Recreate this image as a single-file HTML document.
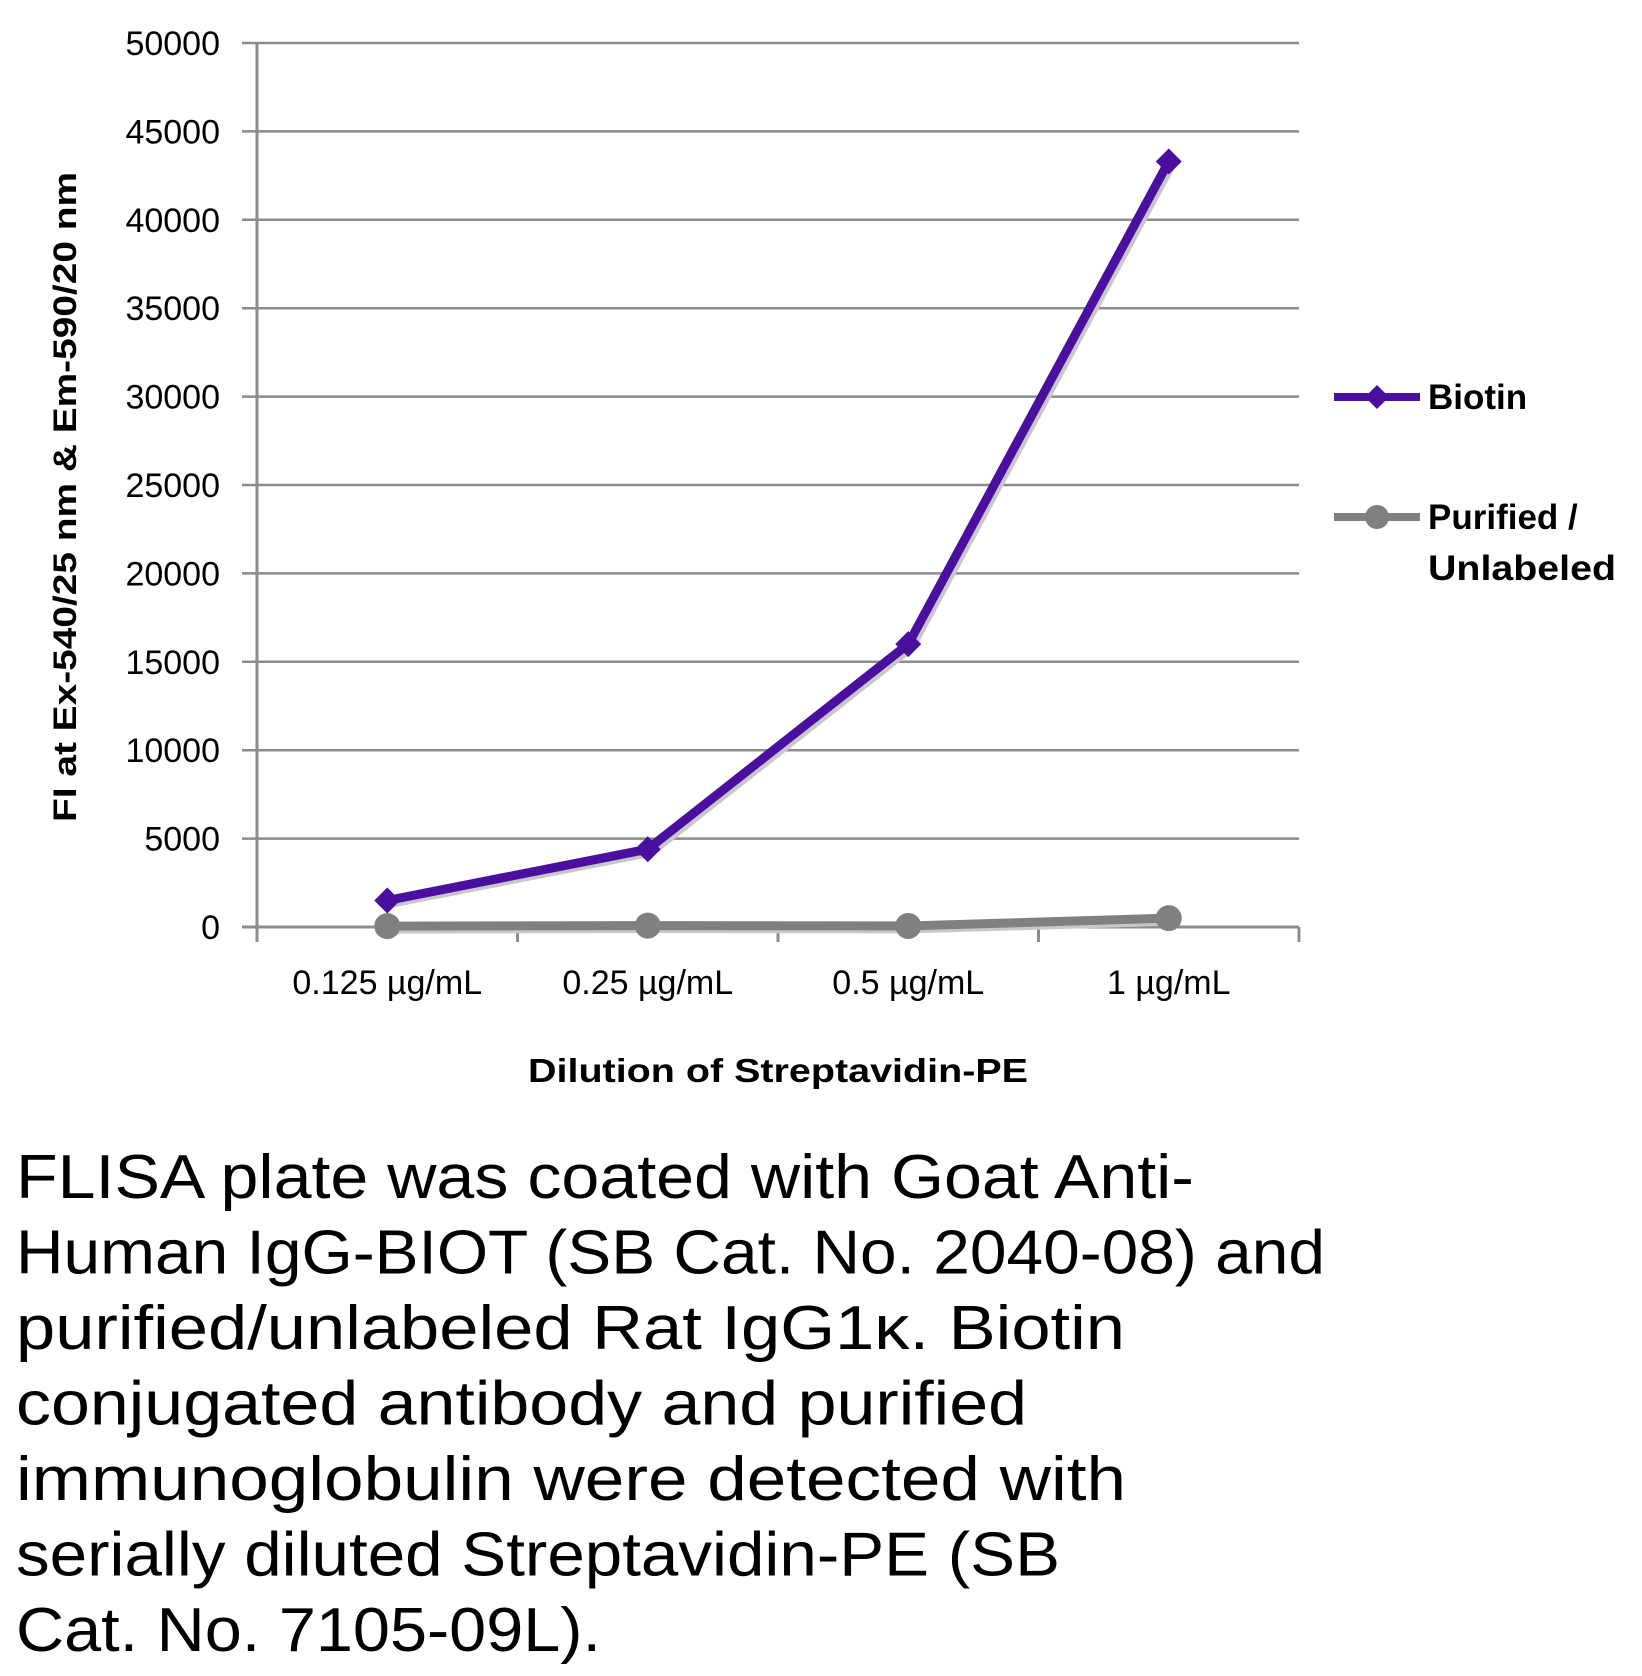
<!DOCTYPE html>
<html><head><meta charset="utf-8"><style>
html,body{margin:0;padding:0;background:#fff}
svg{display:block;font-family:"Liberation Sans",sans-serif}
</style></head><body>
<svg id="chart" width="1642" height="1676" viewBox="0 0 1642 1676"></svg>
<script>
const categories=["0.125 µg/mL","0.25 µg/mL","0.5 µg/mL","1 µg/mL"];
const biotin=[1500,4400,16000,43300];
const purified=[50,80,60,500];
const yTicks=[0,5000,10000,15000,20000,25000,30000,35000,40000,45000,50000];
const captionLines=["FLISA plate was coated with Goat Anti-","Human IgG-BIOT (SB Cat. No. 2040-08) and","purified/unlabeled Rat IgG1κ.  Biotin","conjugated antibody and purified","immunoglobulin were detected with","serially diluted Streptavidin-PE (SB","Cat. No. 7105-09L)."];
const captionWidths=[1178,1309,1109,1011,1110,1044,585];

const NS="http://www.w3.org/2000/svg";
const svg=document.getElementById('chart');
const X0=257,X1=1299,Y0=927,Y1=43,YMAX=50000;
const band=(X1-X0)/categories.length;
const xs=i=>X0+band*(i+0.5);
const ys=v=>Y0-(v/YMAX)*(Y0-Y1);
function mk(tag,attrs,parent){const e=document.createElementNS(NS,tag);for(const k in attrs)e.setAttribute(k,attrs[k]);(parent||svg).appendChild(e);return e;}

const grid=mk('g',{});


yTicks.forEach(t=>{
  const l=mk('line',{x1:X0-15,x2:X1,y1:ys(t),y2:ys(t),stroke:'#8c8c8c','stroke-width':2.5},grid);
  
  
  const tx=mk('text',{x:220,y:ys(t)+12,'text-anchor':'end','font-size':34,fill:'#000'});
  tx.textContent=t;
  
  
});
const ya=mk('line',{x1:X0,x2:X0,y1:Y1,y2:Y0+15,stroke:'#8c8c8c','stroke-width':3});


const xa=mk('line',{x1:X0-15,x2:X1,y1:Y0,y2:Y0,stroke:'#8c8c8c','stroke-width':3});


for(let i=0;i<=categories.length;i++){
  const tk=mk('line',{x1:X0+band*i,x2:X0+band*i,y1:Y0,y2:Y0+15,stroke:'#8c8c8c','stroke-width':3});
  
  
}
categories.forEach((c,i)=>{
  const t=mk('text',{x:xs(i),y:994,'text-anchor':'middle','font-size':34,fill:'#000'});
  t.textContent=c;
  
  
});
function series(vals,color,marker,name){
  const g=mk('g',{});
  
  
  const pts=vals.map((v,i)=>xs(i)+','+ys(v)).join(' ');
  mk('polyline',{points:pts,fill:'none',stroke:'#c8c8c8','stroke-width':9,transform:'translate(3,3)','stroke-linejoin':'round'},g);
  const pl=mk('polyline',{points:pts,fill:'none',stroke:color,'stroke-width':9,'stroke-linejoin':'round'},g);
  
  
  vals.forEach((v,i)=>{
    let m;
    if(marker==='diamond'){const x=xs(i),y=ys(v);m=mk('polygon',{points:`${x},${y-13} ${x+13},${y} ${x},${y+13} ${x-13},${y}`,fill:color},g);}
    else m=mk('circle',{cx:xs(i),cy:ys(v),r:13,fill:color},g);
    
    
  });
}
series(purified,'#808080','circle','purified');
series(biotin,'#4b0fa0','diamond','biotin');

const lg=mk('g',{});


mk('line',{x1:1334,x2:1420,y1:397,y2:397,stroke:'#4b0fa0','stroke-width':8},lg);
mk('polygon',{points:'1377,385 1389,397 1377,409 1365,397',fill:'#4b0fa0'},lg);
const lt1=mk('text',{x:1428,y:409,'font-size':35,'font-weight':'bold'},lg);lt1.textContent='Biotin';


mk('line',{x1:1334,x2:1420,y1:517,y2:517,stroke:'#808080','stroke-width':8},lg);
mk('circle',{cx:1377,cy:517,r:12,fill:'#808080'},lg);
const lt2=mk('text',{x:1428,y:529,'font-size':35,'font-weight':'bold'},lg);lt2.textContent='Purified /';


const lt3=mk('text',{x:1428,y:580,'font-size':35,'font-weight':'bold',textLength:188,lengthAdjust:'spacingAndGlyphs'},lg);lt3.textContent='Unlabeled';



const xt=mk('text',{x:778,y:1082,'text-anchor':'middle','font-size':33,'font-weight':'bold',textLength:500,lengthAdjust:'spacingAndGlyphs'});
xt.textContent='Dilution of Streptavidin-PE';


const yt=mk('text',{x:0,y:0,'text-anchor':'middle','font-size':32,'font-weight':'bold',textLength:650,lengthAdjust:'spacingAndGlyphs',transform:'translate(76,497) rotate(-90)'});
yt.textContent='FI at Ex-540/25 nm & Em-590/20 nm';



const cap=mk('g',{});


captionLines.forEach((s,i)=>{
  const t=mk('text',{x:16,y:1198+i*75.5,'font-size':62,fill:'#000',textLength:captionWidths[i],lengthAdjust:'spacingAndGlyphs'},cap);
  t.textContent=s;
  
  
});
</script>
</body></html>
